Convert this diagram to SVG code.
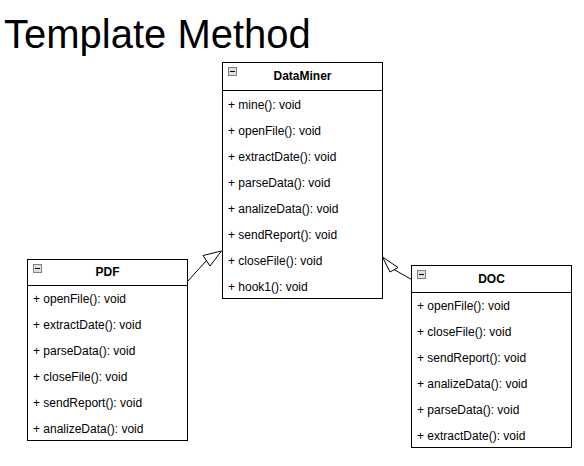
<svg xmlns="http://www.w3.org/2000/svg" width="584" height="466" viewBox="0 0 584 466">
<style>
.box{fill:#fff;stroke:#000;stroke-width:1}
.sep{stroke:#000;stroke-width:1}
.ttl{font-family:"Liberation Sans",Arial,sans-serif;font-size:12px;font-weight:bold;text-anchor:middle;fill:#000}
.row{font-family:"Liberation Sans",Arial,sans-serif;font-size:12px;fill:#000}
.ico{fill:#e0e0e0;stroke:#808080;stroke-width:1}
.icl{stroke:#000;stroke-width:1}
.edge{fill:none;stroke:#000;stroke-width:1}
.head{fill:#fff;stroke:#000;stroke-width:1}
</style>
<rect width="584" height="466" fill="#fff"/>
<text x="4" y="48" font-family="'Liberation Sans',Arial,sans-serif" font-size="40" fill="#000">Template Method</text>

<g id="edges">
<line class="edge" x1="187" y1="282" x2="206.5" y2="260.5"/>
<polygon class="head" points="221.5,251 203,255.5 210,266"/>
<line class="edge" x1="411.5" y1="279.5" x2="394" y2="269.5"/>
<polygon class="head" points="382.5,257 398,267.5 390,272"/>
</g>

<g id="DataMiner">
<rect class="box" x="222.5" y="62.5" width="160" height="236"/>
<line class="sep" x1="222.5" y1="90.5" x2="382.5" y2="90.5"/>
<rect class="ico" x="228.5" y="67.5" width="8" height="8"/>
<line class="icl" x1="230" y1="71.5" x2="235" y2="71.5"/>
<text class="ttl" x="302.5" y="80">DataMiner</text>
<text class="row" x="228" y="108.5">+ mine(): void</text>
<text class="row" x="228" y="134.5">+ openFile(): void</text>
<text class="row" x="228" y="160.5">+ extractDate(): void</text>
<text class="row" x="228" y="186.5">+ parseData(): void</text>
<text class="row" x="228" y="212.5">+ analizeData(): void</text>
<text class="row" x="228" y="238.5">+ sendReport(): void</text>
<text class="row" x="228" y="264.5">+ closeFile(): void</text>
<text class="row" x="228" y="290.5">+ hook1(): void</text>
</g>

<g id="PDF">
<rect class="box" x="27.5" y="259.5" width="160" height="181"/>
<line class="sep" x1="27.5" y1="285.5" x2="187.5" y2="285.5"/>
<rect class="ico" x="33.5" y="264.5" width="8" height="8"/>
<line class="icl" x1="35" y1="268.5" x2="40" y2="268.5"/>
<text class="ttl" x="107.5" y="276">PDF</text>
<text class="row" x="33" y="302.5">+ openFile(): void</text>
<text class="row" x="33" y="328.5">+ extractDate(): void</text>
<text class="row" x="33" y="354.5">+ parseData(): void</text>
<text class="row" x="33" y="380.5">+ closeFile(): void</text>
<text class="row" x="33" y="406.5">+ sendReport(): void</text>
<text class="row" x="33" y="432.5">+ analizeData(): void</text>
</g>

<g id="DOC">
<rect class="box" x="411.5" y="265.5" width="160" height="182"/>
<line class="sep" x1="411.5" y1="292.5" x2="571.5" y2="292.5"/>
<rect class="ico" x="417.5" y="270.5" width="8" height="8"/>
<line class="icl" x1="419" y1="274.5" x2="424" y2="274.5"/>
<text class="ttl" x="491.5" y="283">DOC</text>
<text class="row" x="417" y="309.5">+ openFile(): void</text>
<text class="row" x="417" y="335.5">+ closeFile(): void</text>
<text class="row" x="417" y="361.5">+ sendReport(): void</text>
<text class="row" x="417" y="387.5">+ analizeData(): void</text>
<text class="row" x="417" y="413.5">+ parseData(): void</text>
<text class="row" x="417" y="439.5">+ extractDate(): void</text>
</g>
</svg>
